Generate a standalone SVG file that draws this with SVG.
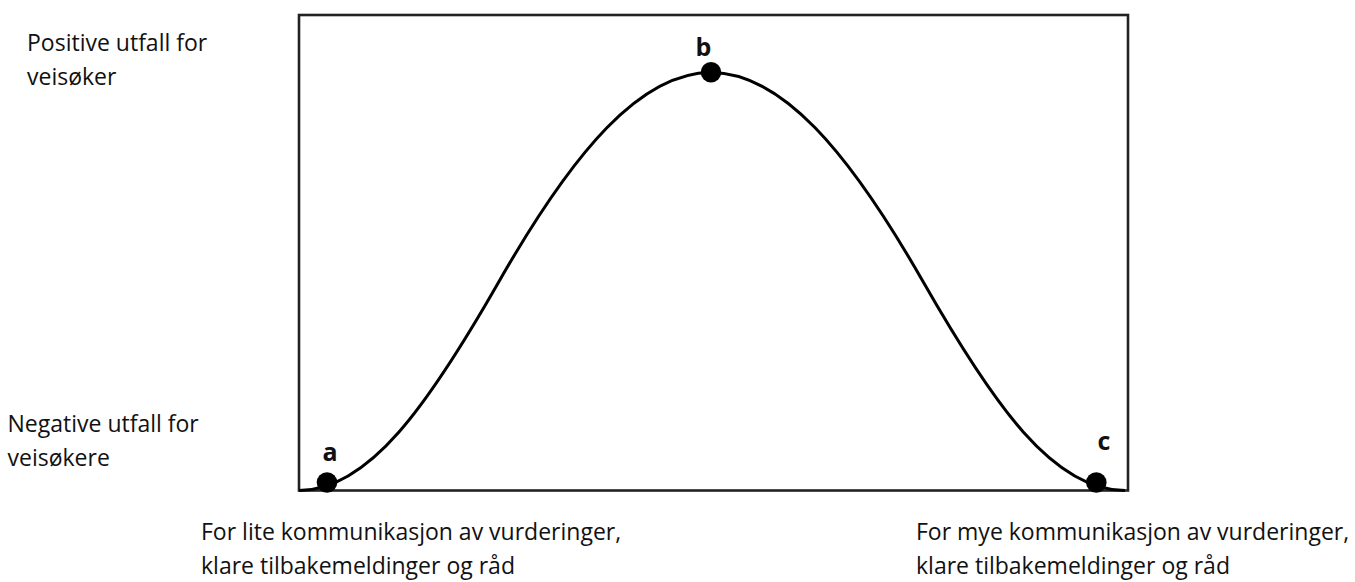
<svg xmlns="http://www.w3.org/2000/svg" width="1355" height="582" viewBox="0 0 1355 582">
  <style>
    .lbl { font-family: "Open Sans", "Liberation Sans", sans-serif; font-size: 23px; fill: #111; }
    .pt { font-family: "Open Sans", "Liberation Sans", sans-serif; font-size: 25px; font-weight: bold; fill: #111; text-anchor: middle; }
    .dot { fill: #000; }
    .frame { fill: none; stroke: #222; stroke-width: 2.6; }
    .curve { fill: none; stroke: #000; stroke-width: 3; }
  </style>
  <rect width="1355" height="582" fill="#fff"/>
  <g id="frame">
    <rect class="frame" x="299" y="15" width="829" height="475.5"/>
  </g>
  <g id="connectors">
    <path class="curve" d="M 299 490.5 C 369 490.5 429 404 499 281.5 C 574 150.25 641 72.5 711 72.5 C 781 72.5 848 150.25 923 281.5 C 993 404 1053 490.5 1125 490.5"/>
  </g>
  <g id="node-a">
    <circle class="dot" cx="327" cy="482.5" r="10.3"/>
    <text class="pt" x="330" y="460.5">a</text>
  </g>
  <g id="node-b">
    <circle class="dot" cx="711" cy="72.3" r="10.3"/>
    <text class="pt" x="703.5" y="56">b</text>
  </g>
  <g id="node-c">
    <circle class="dot" cx="1096.3" cy="482.5" r="10.3"/>
    <text class="pt" x="1104" y="450">c</text>
  </g>
  <g id="label-positive">
    <text class="lbl" x="27" y="51">Positive utfall for</text>
    <text class="lbl" x="27" y="85">veisøker</text>
  </g>
  <g id="label-negative">
    <text class="lbl" x="7.5" y="431.5">Negative utfall for</text>
    <text class="lbl" x="7.5" y="466">veisøkere</text>
  </g>
  <g id="label-left">
    <text class="lbl" x="201" y="539.5">For lite kommunikasjon av vurderinger,</text>
    <text class="lbl" x="201" y="573.5">klare tilbakemeldinger og råd</text>
  </g>
  <g id="label-right">
    <text class="lbl" x="916" y="539.5">For mye kommunikasjon av vurderinger,</text>
    <text class="lbl" x="916" y="573.5">klare tilbakemeldinger og råd</text>
  </g>
</svg>
